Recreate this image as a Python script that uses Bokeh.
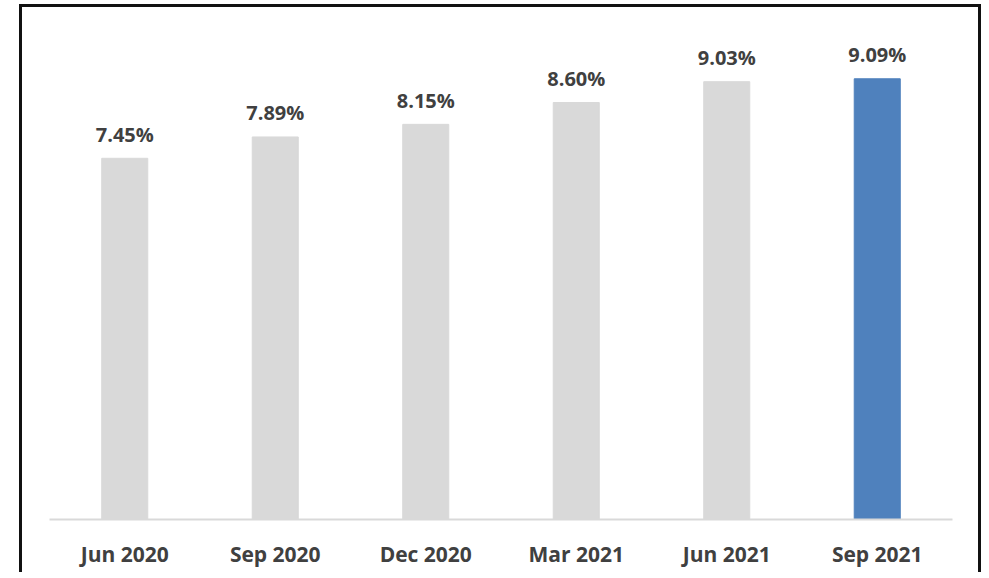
from bokeh.plotting import figure
from bokeh.models import ColumnDataSource, Range1d
from bokeh.core.properties import value
from bokeh.embed import file_html
from bokeh.resources import INLINE

categories = ["Jun 2020", "Sep 2020", "Dec 2020", "Mar 2021", "Jun 2021", "Sep 2021"]
rates = [7.45, 7.89, 8.15, 8.60, 9.03, 9.09]
rate_labels = ["7.45%", "7.89%", "8.15%", "8.60%", "9.03%", "9.09%"]
bar_colors = ["#D9D9D9", "#D9D9D9", "#D9D9D9", "#D9D9D9", "#D9D9D9", "#4F81BD"]

source = ColumnDataSource(dict(cat=categories, rate=rates, label=rate_labels, color=bar_colors))

p = figure(x_range=categories, y_range=Range1d(0, 10.56), width=962, height=568,
           output_backend="svg", toolbar_location=None,
           min_border_left=27, min_border_right=32, min_border_top=0, min_border_bottom=56)
p.styles = {"margin-left": "19px", "margin-top": "4px",
            "border-left": "3px solid #111111", "border-top": "3px solid #111111",
            "border-right": "3px solid #111111"}

p.vbar(x="cat", top="rate", width=0.306, color="color", source=source)
p.text(x="cat", y="rate", text="label", source=source, text_align="center",
       text_baseline="alphabetic", y_offset=-24, text_font=value("Open Sans"),
       text_font_style="bold", text_font_size="20px", text_color="#404040")

p.yaxis.visible = False
p.xgrid.visible = False
p.ygrid.visible = False
p.outline_line_color = None
p.xaxis.axis_line_color = "#D9D9D9"
p.xaxis.axis_line_width = 2
p.xaxis.major_tick_line_color = None
p.xaxis.minor_tick_line_color = None
p.xaxis.major_label_standoff = 14
p.xaxis.major_label_text_font = "Open Sans"
p.xaxis.major_label_text_font_style = "bold"
p.xaxis.major_label_text_font_size = "21px"
p.xaxis.major_label_text_color = "#404040"
p.x_range.range_padding = 0

open("out.html", "w").write(file_html(p, INLINE))
